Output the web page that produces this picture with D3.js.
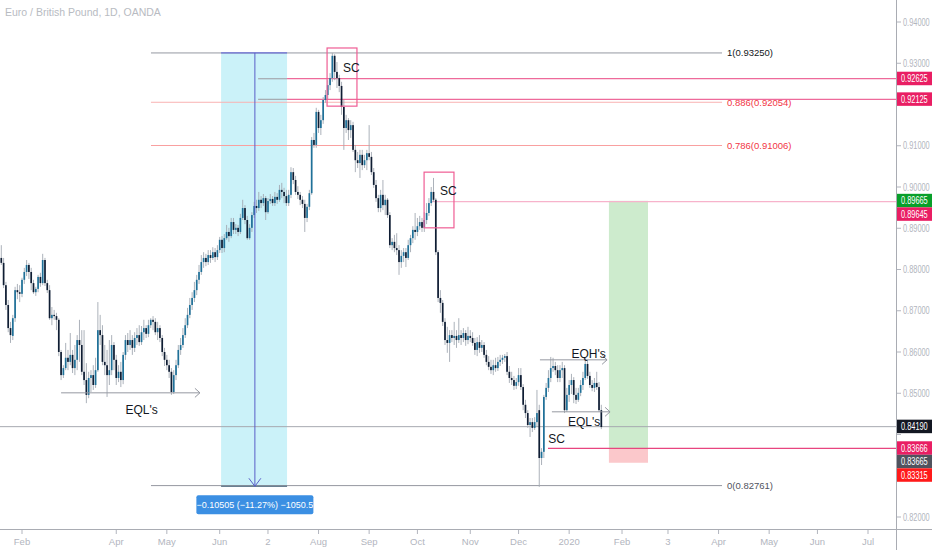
<!DOCTYPE html>
<html>
<head>
<meta charset="utf-8">
<script src="https://cdn.jsdelivr.net/npm/d3@7"></script>
<style>
  body { margin: 0; background: #fff; }
  text { font-family: "Liberation Sans", "Noto Sans", sans-serif; }
</style>
</head>
<body>
<script>
var width = 932, height = 550,
    plotRight = 896, plotBottom = 529;

// first candle sits 9 trading days before 1 Feb 2019 (bar 0)
var firstBar = -9;

// daily candles [open, high, low, close]
var ohlc = [
  [.8828,.8859,.8811,.8816],[.8816,.8828,.8755,.8762],[.8762,.8770,.8702,.8714],[.8714,.8726,.8648,.8658],
  [.8658,.8673,.8622,.8641],[.8639,.8690,.8629,.8682],[.8682,.8758,.8673,.8750],[.8750,.8765,.8728,.8745],
  [.8745,.8762,.8721,.8741],[.8741,.8780,.8733,.8775],[.8775,.8804,.8765,.8794],[.8794,.8823,.8784,.8811],
  [.8811,.8816,.8777,.8794],[.8794,.8804,.8750,.8767],[.8767,.8775,.8741,.8745],[.8745,.8758,.8736,.8753],
  [.8753,.8787,.8745,.8782],[.8782,.8792,.8758,.8767],[.8767,.8838,.8762,.8823],[.8823,.8828,.8760,.8767],
  [.8767,.8775,.8743,.8750],[.8750,.8762,.8678,.8682],[.8682,.8709,.8665,.8690],[.8690,.8702,.8678,.8687],
  [.8687,.8695,.8653,.8678],[.8678,.8682,.8590,.8600],[.8600,.8605,.8532,.8544],[.8544,.8568,.8537,.8561],
  [.8561,.8622,.8556,.8586],[.8586,.8605,.8556,.8576],[.8576,.8646,.8568,.8593],[.8593,.8605,.8549,.8561],
  [.8561,.8617,.8544,.8581],[.8581,.8641,.8556,.8629],[.8629,.8678,.8576,.8617],[.8617,.8653,.8544,.8552],
  [.8552,.8653,.8520,.8532],[.8532,.8573,.8476,.8496],[.8496,.8552,.8488,.8537],[.8537,.8556,.8503,.8544],
  [.8544,.8568,.8508,.8520],[.8520,.8586,.8513,.8556],[.8556,.8721,.8552,.8653],[.8653,.8690,.8617,.8641],
  [.8641,.8665,.8568,.8576],[.8576,.8617,.8544,.8568],[.8568,.8605,.8491,.8544],[.8544,.8629,.8520,.8556],
  [.8556,.8641,.8544,.8617],[.8617,.8624,.8556,.8581],[.8581,.8593,.8520,.8537],[.8537,.8568,.8527,.8552],
  [.8552,.8576,.8515,.8532],[.8532,.8600,.8522,.8593],[.8593,.8641,.8581,.8629],[.8629,.8646,.8600,.8617],
  [.8617,.8653,.8605,.8629],[.8629,.8641,.8593,.8610],[.8610,.8648,.8600,.8634],[.8634,.8658,.8617,.8641],
  [.8641,.8665,.8615,.8624],[.8624,.8663,.8617,.8648],[.8648,.8678,.8629,.8658],[.8658,.8665,.8634,.8644],
  [.8644,.8678,.8636,.8665],[.8665,.8682,.8658,.8678],[.8678,.8687,.8653,.8673],[.8673,.8682,.8641,.8648],
  [.8648,.8673,.8629,.8658],[.8658,.8665,.8624,.8634],[.8634,.8641,.8590,.8600],[.8600,.8610,.8566,.8581],
  [.8581,.8593,.8556,.8568],[.8568,.8581,.8537,.8552],[.8552,.8561,.8496,.8503],[.8503,.8556,.8498,.8544],
  [.8544,.8581,.8532,.8568],[.8568,.8617,.8561,.8605],[.8605,.8634,.8593,.8617],[.8617,.8658,.8610,.8641],
  [.8641,.8682,.8634,.8665],[.8665,.8707,.8658,.8690],[.8690,.8731,.8682,.8714],[.8714,.8745,.8702,.8731],
  [.8731,.8770,.8721,.8750],[.8750,.8787,.8738,.8775],[.8775,.8811,.8765,.8794],[.8794,.8835,.8787,.8818],
  [.8818,.8842,.8804,.8828],[.8828,.8838,.8808,.8818],[.8818,.8847,.8811,.8835],[.8835,.8847,.8816,.8828],
  [.8828,.8854,.8823,.8842],[.8842,.8852,.8818,.8830],[.8830,.8859,.8823,.8847],[.8847,.8879,.8840,.8872],
  [.8872,.8881,.8840,.8852],[.8852,.8886,.8842,.8876],[.8876,.8908,.8872,.8891],[.8891,.8901,.8867,.8881],
  [.8881,.8925,.8876,.8915],[.8915,.8925,.8886,.8896],[.8896,.8910,.8886,.8901],[.8901,.8908,.8881,.8891],
  [.8891,.8935,.8886,.8925],[.8925,.8969,.8920,.8949],[.8949,.8956,.8910,.8920],[.8920,.8930,.8872,.8876],
  [.8876,.8910,.8872,.8901],[.8901,.8939,.8891,.8932],[.8932,.8964,.8925,.8954],[.8954,.8969,.8937,.8949],
  [.8949,.8988,.8942,.8969],[.8969,.8978,.8949,.8961],[.8961,.8983,.8954,.8973],[.8973,.8978,.8920,.8939],
  [.8939,.8973,.8935,.8966],[.8966,.8983,.8959,.8971],[.8971,.8978,.8954,.8961],[.8961,.8988,.8954,.8976],
  [.8976,.8985,.8959,.8969],[.8969,.9005,.8964,.8993],[.8993,.9010,.8973,.8988],[.8988,.8998,.8961,.8978],
  [.8978,.8993,.8954,.8961],[.8961,.8993,.8954,.8981],[.8981,.9048,.8973,.9036],[.9036,.9046,.9007,.9017],
  [.9017,.9027,.8981,.8988],[.8988,.9002,.8971,.8981],[.8981,.8988,.8956,.8969],[.8969,.8978,.8949,.8959],
  [.8959,.8969,.8891,.8925],[.8925,.8959,.8915,.8952],[.8952,.8993,.8944,.8985],[.8985,.9121,.8981,.9114],
  [.9114,.9131,.9095,.9102],[.9102,.9192,.9095,.9182],[.9182,.9187,.9131,.9143],[.9143,.9175,.9126,.9162],
  [.9162,.9218,.9153,.9211],[.9211,.9235,.9204,.9223],[.9223,.9259,.9213,.9247],[.9247,.9276,.9235,.9264],
  [.9264,.9325,.9255,.9318],[.9318,.9322,.9259,.9279],[.9279,.9303,.9240,.9264],[.9264,.9272,.9230,.9245],
  [.9245,.9255,.9175,.9194],[.9194,.9211,.9090,.9143],[.9143,.9175,.9131,.9162],[.9162,.9167,.9114,.9138],
  [.9138,.9162,.9119,.9150],[.9150,.9158,.9085,.9090],[.9090,.9102,.9036,.9065],[.9065,.9085,.9046,.9058],
  [.9058,.9090,.9022,.9078],[.9078,.9090,.9041,.9053],[.9053,.9078,.9046,.9065],[.9065,.9090,.9041,.9082],
  [.9082,.9150,.9065,.9073],[.9073,.9085,.9029,.9036],[.9036,.9046,.8998,.9005],[.9005,.9017,.8964,.8973],
  [.8973,.8981,.8939,.8949],[.8949,.8993,.8939,.8981],[.8981,.9017,.8944,.8956],[.8956,.8981,.8932,.8969],
  [.8969,.8973,.8925,.8932],[.8932,.8939,.8852,.8859],[.8859,.8876,.8847,.8867],[.8867,.8884,.8842,.8852],
  [.8852,.8888,.8835,.8847],[.8847,.8859,.8787,.8818],[.8818,.8847,.8804,.8833],[.8833,.8852,.8818,.8842],
  [.8842,.8852,.8806,.8828],[.8828,.8872,.8823,.8859],[.8859,.8884,.8842,.8876],[.8876,.8905,.8864,.8896],
  [.8896,.8937,.8872,.8891],[.8891,.8925,.8881,.8905],[.8905,.8930,.8896,.8915],[.8915,.8925,.8891,.8901],
  [.8901,.8939,.8891,.8920],[.8920,.8961,.8910,.8937],[.8937,.8973,.8930,.8961],[.8961,.9000,.8954,.8988],
  [.8988,.9022,.8964,.8969],[.8969,.8973,.8835,.8842],[.8842,.8847,.8721,.8731],[.8731,.8750,.8695,.8719],
  [.8719,.8726,.8663,.8673],[.8673,.8682,.8617,.8629],[.8629,.8661,.8598,.8622],[.8622,.8653,.8576,.8641],
  [.8641,.8653,.8624,.8634],[.8634,.8673,.8617,.8639],[.8639,.8653,.8610,.8629],[.8629,.8682,.8622,.8641],
  [.8641,.8653,.8617,.8634],[.8634,.8658,.8624,.8646],[.8646,.8653,.8615,.8629],[.8629,.8661,.8619,.8639],
  [.8639,.8653,.8624,.8634],[.8634,.8648,.8615,.8622],[.8622,.8634,.8593,.8605],[.8605,.8636,.8590,.8624],
  [.8624,.8641,.8598,.8610],[.8610,.8629,.8600,.8617],[.8617,.8624,.8586,.8593],[.8593,.8605,.8568,.8576],
  [.8576,.8590,.8556,.8564],[.8564,.8581,.8547,.8556],[.8556,.8581,.8544,.8568],[.8568,.8586,.8552,.8561],
  [.8561,.8588,.8554,.8576],[.8576,.8593,.8566,.8581],[.8581,.8593,.8571,.8586],[.8586,.8595,.8576,.8590],
  [.8590,.8600,.8544,.8552],[.8552,.8566,.8525,.8537],[.8537,.8552,.8520,.8532],[.8532,.8542,.8508,.8518],
  [.8518,.8537,.8510,.8527],[.8527,.8561,.8518,.8544],[.8544,.8561,.8508,.8515],[.8515,.8522,.8459,.8472],
  [.8472,.8484,.8440,.8452],[.8452,.8459,.8416,.8423],[.8423,.8440,.8394,.8430],[.8430,.8440,.8406,.8416],
  [.8416,.8442,.8411,.8430],[.8430,.8508,.8418,.8452],[.8459,.8472,.8273,.8343],[.8343,.8367,.8326,.8358],
  [.8358,.8496,.8343,.8491],[.8491,.8525,.8484,.8513],[.8513,.8556,.8503,.8537],[.8537,.8588,.8527,.8561],
  [.8561,.8586,.8552,.8566],[.8566,.8576,.8544,.8556],[.8556,.8568,.8527,.8537],[.8537,.8568,.8527,.8556],
  [.8556,.8576,.8537,.8561],[.8561,.8568,.8452,.8459],[.8459,.8513,.8455,.8496],[.8496,.8532,.8479,.8520],
  [.8520,.8547,.8498,.8532],[.8532,.8539,.8476,.8496],[.8496,.8513,.8474,.8484],[.8484,.8513,.8479,.8501],
  [.8501,.8532,.8493,.8520],[.8520,.8552,.8508,.8537],[.8537,.8586,.8532,.8571],[.8571,.8581,.8535,.8542],
  [.8542,.8552,.8513,.8520],[.8520,.8532,.8505,.8513],[.8513,.8537,.8503,.8525],[.8525,.8552,.8508,.8515],
  [.8515,.8527,.8455,.8459],[.8459,.8472,.8413,.8418]
];

// time axis: trading-day offsets from 1 Feb 2019 and their labels
var tickBars = [0, 41, 63, 86, 107, 129, 151, 172, 195, 216, 238, 261, 281, 303, 325, 346, 368];
var tickLabels = ["Feb", "Apr", "May", "Jun", "2", "Aug", "Sep", "Oct", "Nov", "Dec", "2020", "Feb", "3", "Apr", "May", "Jun", "Jul"];

// price axis
var priceTicks = [0.82, 0.83, 0.84, 0.85, 0.86, 0.87, 0.88, 0.89, 0.90, 0.91, 0.92, 0.93, 0.94];

// fib retracement
var fibRatios = ["1", "0.886", "0.786", "0"];
var fibPrices = [0.93250, 0.92054, 0.91006, 0.82761];

// price tags on the right scale
var tagPrices = [0.92625, 0.92125, 0.89665, 0.89645, 0.84190, 0.83666, 0.83665, 0.83315];

// long position: target / entry / stop
var longTarget = 0.89665, longEntry = 0.83666, longStop = 0.83315;
var lastPrice = 0.84190;

// ruler measurement
var rulerFrom = 0.93250, rulerTo = 0.82745;
var rulerText = "\u22120.10505 (\u221211.27%) \u22121050.5";

var x = d3.scaleLinear().domain([0, 368]).range([22, 868]);
var y = d3.scaleLinear().domain([0.82, 0.94]).range([517, 22]);

var svg = d3.select("body").append("svg")
    .attr("width", width)
    .attr("height", height);

svg.append("rect").attr("width", width).attr("height", height).attr("fill", "#fff");

svg.append("clipPath").attr("id", "plot")
  .append("rect").attr("width", plotRight).attr("height", plotBottom);

var g = svg.append("g").attr("clip-path", "url(#plot)");

// ruler background
var rx0 = x(86.6), rx1 = x(115.3), rxm = x(101.3);
g.append("rect")
    .attr("x", rx0).attr("y", y(rulerFrom))
    .attr("width", rx1 - rx0).attr("height", y(rulerTo) - y(rulerFrom))
    .attr("fill", "#cbf2f9");

// long position boxes
var lx0 = x(255.3), lx1 = x(272.3);
g.append("rect")
    .attr("x", lx0).attr("y", y(longTarget))
    .attr("width", lx1 - lx0).attr("height", y(longEntry) - y(longTarget))
    .attr("fill", "#cdebcd");
g.append("rect")
    .attr("x", lx0).attr("y", y(longEntry))
    .attr("width", lx1 - lx0).attr("height", y(longStop) - y(longEntry))
    .attr("fill", "#fbc8cb");

// last price line
g.append("line")
    .attr("x1", 0).attr("x2", plotRight)
    .attr("y1", y(lastPrice)).attr("y2", y(lastPrice))
    .attr("stroke", "#a6a9b0").attr("stroke-width", 1);

// fib lines
var fibColors = ["#9598a1", "#f9b3b3", "#f9a0a0", "#9598a1"];
var fibText = ["#131722", "#f23645", "#f23645", "#50535e"];
fibPrices.forEach(function(p, i) {
  g.append("line")
      .attr("x1", x(56.1)).attr("x2", x(304.5))
      .attr("y1", y(p)).attr("y2", y(p))
      .attr("stroke", fibColors[i]).attr("stroke-width", 1);
  g.append("text")
      .attr("x", x(304.5) + 5).attr("y", y(p) + 3.5)
      .attr("font-size", 9.5).attr("fill", fibText[i])
      .text(fibRatios[i] + "(" + p.toFixed(5) + ")");
});

// horizontal rays
[0.92625, 0.92125].forEach(function(p) {
  g.append("line")
      .attr("x1", x(102.7)).attr("x2", x(115.3))
      .attr("y1", y(p)).attr("y2", y(p))
      .attr("stroke", "#a4a7ae").attr("stroke-width", 1.2);
  g.append("line")
      .attr("x1", x(115.3)).attr("x2", plotRight)
      .attr("y1", y(p)).attr("y2", y(p))
      .attr("stroke", "#ee6a9a").attr("stroke-width", 1.2);
});
g.append("line")
    .attr("x1", x(178)).attr("x2", plotRight)
    .attr("y1", y(0.89645)).attr("y2", y(0.89645))
    .attr("stroke", "#f7b3cb").attr("stroke-width", 1.2);
g.append("line")
    .attr("x1", x(228.8)).attr("x2", plotRight)
    .attr("y1", y(longEntry)).attr("y2", y(longEntry))
    .attr("stroke", "#e8457f").attr("stroke-width", 1.2);

// candles
var candles = g.append("g").selectAll("g")
    .data(ohlc)
  .enter().append("g");

candles.append("line")
    .attr("x1", function(d, i) { return x(firstBar + i); })
    .attr("x2", function(d, i) { return x(firstBar + i); })
    .attr("y1", function(d) { return y(d[1]); })
    .attr("y2", function(d) { return y(d[2]); })
    .attr("stroke", "#a3a9b2").attr("stroke-width", 0.9);

candles.append("rect")
    .attr("x", function(d, i) { return x(firstBar + i) - 0.85; })
    .attr("width", 1.7)
    .attr("y", function(d) { return y(Math.max(d[0], d[3])); })
    .attr("height", function(d) { return Math.max(1, Math.abs(y(d[0]) - y(d[3]))); })
    .attr("fill", function(d) { return d[3] >= d[0] ? "#1f7199" : "#0f1d33"; });

// ruler lines and arrow
g.append("line")
    .attr("x1", rx0).attr("x2", rx1)
    .attr("y1", y(rulerFrom)).attr("y2", y(rulerFrom))
    .attr("stroke", "#6c70d8").attr("stroke-width", 1.2);
g.append("line")
    .attr("x1", rx0).attr("x2", rx1)
    .attr("y1", y(rulerTo)).attr("y2", y(rulerTo))
    .attr("stroke", "#3f5a70").attr("stroke-width", 1.2);
g.append("line")
    .attr("x1", rxm).attr("x2", rxm)
    .attr("y1", y(rulerFrom)).attr("y2", y(rulerTo))
    .attr("stroke", "#5b5fc7").attr("stroke-width", 1);
g.append("path")
    .attr("d", "M" + (rxm - 6) + "," + (y(rulerTo) - 8) + "L" + rxm + "," + y(rulerTo) + "L" + (rxm + 6) + "," + (y(rulerTo) - 8))
    .attr("fill", "none").attr("stroke", "#5b5fc7").attr("stroke-width", 1);

// ruler label
var rlw = 117, rly = y(rulerTo) + 9;
g.append("rect")
    .attr("x", rxm - rlw / 2).attr("y", rly)
    .attr("width", rlw).attr("height", 19).attr("rx", 2)
    .attr("fill", "#3b8fe3");
g.append("text")
    .attr("x", rxm).attr("y", rly + 13)
    .attr("text-anchor", "middle").attr("font-size", 9).attr("fill", "#fff")
    .text(rulerText);

// SC boxes
var scBoxes = [[132.7, 145.7, 0.9337, 0.9196], [174.9, 187.9, 0.9036, 0.8901]];
scBoxes.forEach(function(b) {
  g.append("rect")
      .attr("x", x(b[0])).attr("y", y(b[2]))
      .attr("width", x(b[1]) - x(b[0])).attr("height", y(b[3]) - y(b[2]))
      .attr("fill", "none").attr("stroke", "#ef5d94").attr("stroke-width", 1.2);
});

// equal highs / lows rays
var eqLines = [[17, 77.4, 0.8501], [225.3, 254.5, 0.8581], [230.5, 255.8, 0.8455]];
eqLines.forEach(function(l) {
  var x1 = x(l[0]), x2 = x(l[1]), yy = y(l[2]);
  g.append("line")
      .attr("x1", x1).attr("x2", x2).attr("y1", yy).attr("y2", yy)
      .attr("stroke", "#9598a1").attr("stroke-width", 1);
  g.append("path")
      .attr("d", "M" + (x2 - 5) + "," + (yy - 4.5) + "L" + x2 + "," + yy + "L" + (x2 - 5) + "," + (yy + 4.5))
      .attr("fill", "none").attr("stroke", "#9598a1").attr("stroke-width", 1);
});

// text notes
var notes = [
  ["SC", 143.3, 0.9290], ["SC", 185.4, 0.8992], ["SC", 232.5, 0.8390],
  ["EQL's", 52, 0.8461], ["EQH's", 246.5, 0.8597], ["EQL's", 244.5, 0.8431]
];
notes.forEach(function(n) {
  g.append("text")
      .attr("x", x(n[1])).attr("y", y(n[2]) + 4.5)
      .attr("text-anchor", "middle").attr("font-size", 12).attr("fill", "#131722")
      .text(n[0]);
});

// title
svg.append("text")
    .attr("x", 5).attr("y", 16)
    .attr("font-size", 10.5).attr("fill", "#b8bbc2")
    .text("Euro / British Pound, 1D, OANDA");

// axes lines
svg.append("line")
    .attr("x1", plotRight + 0.5).attr("x2", plotRight + 0.5)
    .attr("y1", 0).attr("y2", height)
    .attr("stroke", "#a9acb3").attr("stroke-width", 1);
svg.append("line")
    .attr("x1", 0).attr("x2", width)
    .attr("y1", plotBottom + 0.5).attr("y2", plotBottom + 0.5)
    .attr("stroke", "#a9acb3").attr("stroke-width", 1);

// price tags, pushed down so they do not overlap
var tagColors = ["#e91e63", "#e91e63", "#089f2a", "#e91e63", "#131722", "#e91e63", "#50535e", "#ff1a1a"];
var tagY = [], prevY = -Infinity;
tagPrices.forEach(function(p) {
  var ty = Math.max(y(p), prevY + 13.5);
  tagY.push(ty);
  prevY = ty;
});

// narrow price text, squeezed to fit the right scale
function priceLabel(sel, px, py, txt, fill) {
  return sel.append("text")
      .attr("transform", "translate(" + px + "," + (py + 3.5) + ") scale(0.74,1)")
      .attr("font-size", 10).attr("fill", fill)
      .text(txt);
}

// price axis ticks (label hidden where a tag covers it)
var ya = svg.append("g");
priceTicks.forEach(function(p) {
  var covered = tagY.some(function(t) { return Math.abs(t - y(p)) < 9; });
  ya.append("line")
      .attr("x1", plotRight + 1).attr("x2", plotRight + 5)
      .attr("y1", y(p)).attr("y2", y(p))
      .attr("stroke", "#b2b5be");
  if (!covered) priceLabel(ya, plotRight + 7, y(p), p.toFixed(5), "#b2b5be");
});

// time axis ticks
tickBars.forEach(function(b, i) {
  svg.append("line")
      .attr("x1", x(b)).attr("x2", x(b))
      .attr("y1", plotBottom + 1).attr("y2", plotBottom + 5)
      .attr("stroke", "#b2b5be");
  svg.append("text")
      .attr("x", x(b)).attr("y", plotBottom + 16)
      .attr("text-anchor", "middle").attr("font-size", 9.5).attr("fill", "#b2b5be")
      .text(tickLabels[i]);
});

tagPrices.forEach(function(p, i) {
  svg.append("rect")
      .attr("x", plotRight + 1).attr("y", tagY[i] - 7)
      .attr("width", width - plotRight - 1).attr("height", 13.5)
      .attr("fill", tagColors[i]);
  priceLabel(svg, plotRight + 5, tagY[i], p.toFixed(5), "#fff");
});
</script>
</body>
</html>
